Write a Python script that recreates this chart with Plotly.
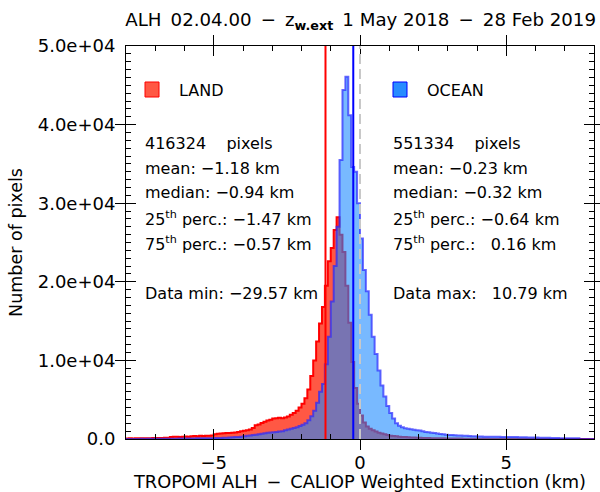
import numpy as np
import plotly.graph_objects as go

# ---------------- data ----------------
bin_start = -8.0
bin_width = 0.1

land_counts = [
    60, 80, 70, 90, 80, 100, 90, 110, 100, 120,
    130, 120, 140, 150, 170, 250, 280, 300, 260, 300,
    320, 300, 340, 380, 360, 400, 380, 420, 400, 450,
    620, 680, 700, 720, 750, 760, 800, 820, 880, 1000,
    1050, 1100, 1200, 1400, 1750, 1850, 2050, 2200, 2350, 2450,
    2600, 2650, 2700, 2650, 2750, 2850, 3100, 3300, 3600, 4000,
    4500, 5200, 6300, 8000, 10000, 12400, 14700, 16800, 19500, 22600,
    24300, 26600, 28200, 26000, 23800, 19500, 14800, 9800, 6500, 4500,
    3000, 2100, 1600, 1300, 1100, 950, 800, 700, 600, 500,
    420, 380, 340, 300, 270, 250, 220, 200, 180, 160,
    150, 140, 130, 120, 110, 100, 90, 85, 80, 75,
    70, 65, 60, 55, 50, 45, 40, 35, 30, 30,
    25, 25, 20, 20, 15, 15, 10, 10, 10, 10,
    5, 5, 5, 5, 5, 5, 5, 5, 5, 5,
    5, 5, 5, 5, 5, 0, 0, 0, 0, 0,
    0, 0, 0, 0, 0, 0, 0, 0, 0, 0,
]

ocean_counts = [
    10, 10, 15, 10, 15, 20, 15, 20, 20, 25,
    25, 30, 30, 35, 35, 40, 40, 45, 50, 55,
    60, 65, 70, 75, 80, 85, 90, 95, 100, 110,
    120, 130, 140, 150, 165, 190, 210, 240, 270, 300,
    350, 400, 450, 500, 550, 600, 660, 720, 780, 820,
    850, 900, 950, 1000, 1100, 1200, 1300, 1400, 1500, 1650,
    1800, 2000, 2400, 2900, 3600, 4600, 6000, 7000, 9500, 13000,
    17500, 22000, 27000, 35500, 44400, 46100, 41200, 34600, 34000, 30000,
    25500, 21500, 18800, 15800, 13000, 10800, 8700, 6800, 5400, 4200,
    3300, 2600, 2000, 1700, 1500, 1380, 1300, 1230, 1170, 1120,
    1080, 1000, 900, 850, 800, 750, 700, 650, 600, 550,
    520, 500, 480, 460, 440, 420, 400, 380, 360, 340,
    320, 310, 300, 300, 290, 290, 280, 280, 270, 270,
    260, 250, 250, 240, 230, 220, 210, 200, 200, 190,
    180, 170, 170, 160, 150, 140, 130, 120, 110, 100,
    100, 90, 90, 80, 80, 0, 0, 0, 0, 0,
]

land_mean = -1.18
ocean_mean = -0.23

land_lines = [
    "416324\u00a0\u00a0\u00a0\u00a0pixels",
    "mean: \u22121.18 km",
    "median: \u22120.94 km",
    "25<sup>th</sup> perc.: \u22121.47 km",
    "75<sup>th</sup> perc.: \u22120.57 km",
    "Data min: \u221229.57 km",
]
ocean_lines = [
    "551334\u00a0\u00a0\u00a0\u00a0pixels",
    "mean: \u22120.23 km",
    "median: \u22120.32 km",
    "25<sup>th</sup> perc.: \u22120.64 km",
    "75<sup>th</sup> perc.:\u00a0\u00a0 0.16 km",
    "Data max:\u00a0\u00a0 10.79 km",
]

x_range = [-8, 8]
y_range = [0, 50000]
x_major_step = 5
x_minor_step = 1
y_major_step = 10000
y_minor_step = 1000
# d3 '.1e' output -> label shown on the reference
y_tick_keys = ["0.0e+0", "1.0e+4", "2.0e+4", "3.0e+4", "4.0e+4", "5.0e+4"]
y_tick_text = ["0.0", "1.0e+04", "2.0e+04", "3.0e+04", "4.0e+04", "5.0e+04"]

SP = "\u2002"
title_text = ("ALH" + SP + "02.04.00" + SP + "\u2212" + SP + "z<sub><b>w.ext</b></sub>" + SP +
              "1 May 2018" + SP + "\u2212" + SP + "28 Feb 2019")
x_title = "TROPOMI ALH" + SP + "\u2212" + SP + "CALIOP Weighted Extinction (km)"
y_title = "Number of pixels"

# ---------------- figure ----------------
n = len(land_counts)
edges = bin_start + bin_width * np.arange(n + 1)

def step_y(c):
    return list(c) + [c[-1]]

fig = go.Figure()
fig.add_trace(go.Scatter(
    x=edges, y=step_y(land_counts), mode="lines", line_shape="hv",
    line=dict(color="rgb(255,0,0)", width=2),
    fill="tozeroy", fillcolor="rgb(255,88,68)", hoverinfo="skip"))
fig.add_trace(go.Scatter(
    x=edges, y=step_y(ocean_counts), mode="lines", line_shape="hv",
    line=dict(color="rgba(40,40,255,0.7)", width=2),
    fill="tozeroy", fillcolor="rgba(26,136,255,0.59)", hoverinfo="skip"))
# invisible helpers so the minor-tick overlay axes get drawn
fig.add_trace(go.Scatter(x=[x_range[0]], y=[y_range[0]], xaxis="x2", yaxis="y",
                         mode="markers", marker=dict(opacity=0), hoverinfo="skip"))
fig.add_trace(go.Scatter(x=[x_range[0]], y=[y_range[0]], xaxis="x", yaxis="y2",
                         mode="markers", marker=dict(opacity=0), hoverinfo="skip"))

shapes = [
    dict(type="line", xref="x", yref="paper", x0=land_mean, x1=land_mean, y0=0, y1=1,
         line=dict(color="rgb(255,0,0)", width=2)),
    dict(type="line", xref="x", yref="paper", x0=ocean_mean, x1=ocean_mean, y0=0, y1=1,
         line=dict(color="rgb(0,0,255)", width=2)),
    dict(type="line", xref="x", yref="paper", x0=0, x1=0, y0=0, y1=1,
         line=dict(color="rgb(200,200,200)", width=2, dash="10px,5px")),
    dict(type="rect", xref="paper", yref="paper",
         x0=(145 - 126) / 468, x1=(159 - 126) / 468, y0=(439 - 97) / 393, y1=(439 - 82) / 393,
         fillcolor="rgb(255,88,68)", line=dict(color="rgb(255,0,0)", width=1)),
    dict(type="rect", xref="paper", yref="paper",
         x0=(393 - 126) / 468, x1=(407 - 126) / 468, y0=(439 - 97) / 393, y1=(439 - 82) / 393,
         fillcolor="rgb(40,140,255)", line=dict(color="rgb(0,0,255)", width=1)),
]

annotations = []
def add_text(px, py, text, size=16):
    annotations.append(dict(xref="paper", yref="paper", x=(px - 126) / 468, y=(439 - py) / 393,
                            text=text, showarrow=False, xanchor="left", yanchor="middle",
                            font=dict(size=size, family="DejaVu Sans", color="black")))

add_text(177, 90, "LAND")
add_text(425, 90, "OCEAN")
row_y = [143, 168, 193, 218, 243, 293]
for t, yy in zip(land_lines, row_y):
    add_text(143, yy, t)
for t, yy in zip(ocean_lines, row_y):
    add_text(391, yy, t)

axis_common = dict(showgrid=False, zeroline=False, automargin=False,
                   showline=True, linecolor="black", linewidth=1, mirror="allticks",
                   ticks="inside", tickcolor="black", tickwidth=1)

fig.update_layout(
    width=600, height=492,
    margin=dict(l=126, r=6, t=46, b=53),
    plot_bgcolor="white", paper_bgcolor="white",
    showlegend=False,
    font=dict(family="DejaVu Sans", size=17, color="black"),
    title=dict(text=title_text, xref="container", x=596 / 600, xanchor="right",
               yref="container", y=1 - 20 / 492, yanchor="middle",
               font=dict(size=18.2, family="DejaVu Sans")),
    shapes=shapes,
    annotations=annotations,
    xaxis=dict(axis_common, range=x_range, tickmode="linear", tick0=0, dtick=x_major_step,
               ticklen=10, ticklabelstandoff=7, tickfont=dict(size=18),
               title=dict(text=x_title, standoff=11, font=dict(size=17.8))),
    yaxis=dict(axis_common, range=y_range, tickmode="linear", tick0=0, dtick=y_major_step,
               tickformat=".1e", labelalias=dict(zip(y_tick_keys, y_tick_text)),
               ticklen=10, ticklabelstandoff=6, tickfont=dict(size=18),
               title=dict(text=y_title, standoff=10, font=dict(size=17.5))),
    xaxis2=dict(axis_common, overlaying="x", anchor="y", side="bottom", range=x_range,
                tickmode="linear", tick0=0, dtick=x_minor_step, ticklen=5,
                showticklabels=False),
    yaxis2=dict(axis_common, overlaying="y", anchor="x", side="left", range=y_range,
                tickmode="linear", tick0=0, dtick=y_minor_step, ticklen=5,
                showticklabels=False),
)

fig.write_html("out.html", config={"displayModeBar": False},
               post_script="document.body.style.margin='0px';")
